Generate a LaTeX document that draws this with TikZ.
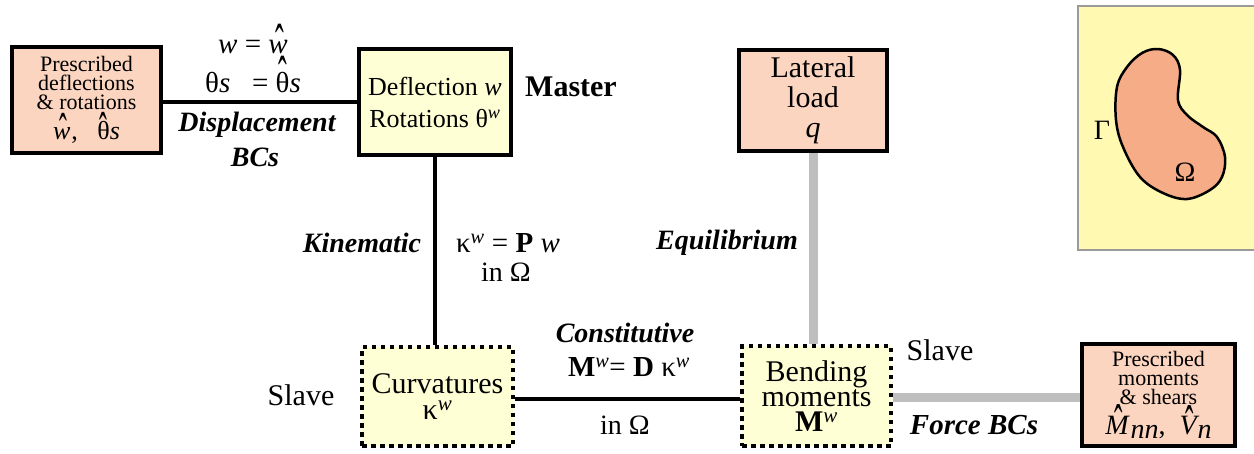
\documentclass[tikz,border=0pt]{standalone}
\usepackage{graphicx}
\usepackage{fontspec}
\setmainfont{Liberation Serif}
\definecolor{peach}{HTML}{FCD5C0}
\definecolor{paleyel}{HTML}{FFFFD6}
\definecolor{panelyel}{HTML}{FFF9B2}
\definecolor{kidney}{HTML}{F6AC86}
\definecolor{gline}{HTML}{BEBEBE}
\definecolor{pgray}{HTML}{9A9A9A}
\newsavebox\hatbox
\NewDocumentCommand\hatit{O{0em}O{0em}m}{\sbox\hatbox{#3}\rlap{\hbox to\wd\hatbox{\hss\kern#2\raisebox{\dimexpr\ht\hatbox-0.84em+#1\relax}[0pt][0pt]{\upshape\scalebox{0.9}[2]{ˆ}}\hss}}\usebox\hatbox}
\newcommand\sw{\textsuperscript{\itshape w}}
\tikzset{
  solidbox/.style={draw=black, line width=4pt, shape=rectangle, inner sep=0pt, align=center},
  dotbox/.style={draw=black, line width=4.5pt, dash pattern=on 4.5pt off 4.5pt, shape=rectangle, inner sep=0pt, align=center, fill=paleyel},
  conn/.style={line width=4pt, black},
  gconn/.style={line width=9pt, gline},
  lbl/.style={font=\fontsize{28}{30}\selectfont\bfseries\itshape, inner sep=0pt},
  txt/.style={font=\fontsize{29}{32}\selectfont, inner sep=0pt, align=center},
}
\begin{document}
\begin{tikzpicture}[x=1pt,y=-1pt]
\useasboundingbox (0,0) rectangle (1254,453);
% right panel
\node[draw=pgray, line width=2pt, fill=panelyel, minimum width=180pt, minimum height=244pt, inner sep=0pt] (panel) at (1168,128) {};
\draw[fill=kidney, line width=2.5pt] plot[smooth cycle, tension=0.6] coordinates {
 (1158,49) (1173,55) (1180,70) (1178,100) (1187,115) (1203,127) (1217,137) (1225,157) (1222,177) (1210,190) (1187,199) (1163,193) (1140,177) (1123,147) (1116,120) (1117,87) (1127,67) (1142,53)};
\node[txt, font=\fontsize{28}{30}\selectfont] (gam) at (1102,130) {Γ};
\node[txt, font=\fontsize{28}{30}\selectfont] (omg) at (1185,172) {Ω};
% boxes
\node[solidbox, fill=peach, minimum width=149pt, minimum height=106pt, font=\fontsize{22}{19}\selectfont] (presD) at (86.5,99.5) {Prescribed\\deflections\\\& rotations\\[11pt]\fontsize{26}{20}\selectfont\hatit[0em][0.12em]{\itshape w}\kern1pt,\ \ \ \hatit[-0.23em]{θ}\textit{s}};
\node[solidbox, fill=paleyel, minimum width=152pt, minimum height=106pt, font=\fontsize{26}{32}\selectfont] (defl) at (435,102) {Deflection \textit{w}\\Rotations θ\sw};
\node[solidbox, fill=peach, minimum width=148pt, minimum height=101pt, font=\fontsize{30}{30}\selectfont] (lat) at (813,100.5) {Lateral\\load\\\textit{q}};
\node[dotbox, minimum width=151pt, minimum height=99pt, font=\fontsize{30}{26}\selectfont] (curv) at (437.5,396.5) {Curvatures\\κ\sw};
\node[dotbox, minimum width=149pt, minimum height=100pt, font=\fontsize{30}{25}\selectfont] (bend) at (816.5,396) {Bending\\moments\\\textbf{M}\sw};
\node[solidbox, fill=peach, minimum width=153pt, minimum height=102pt, font=\fontsize{22}{19}\selectfont] (presF) at (1158.5,395) {Prescribed\\moments\\\& shears\\[11pt]\fontsize{28}{20}\selectfont\hatit[-0.14em][0.15em]{\itshape M}\kern2pt\raisebox{-4pt}{\textit{nn}},\ \ \hatit[-0.18em][0.1em]{\itshape V}\kern1pt\raisebox{-4pt}{\textit{n}}};
% connectors
\draw[conn] (presD.east |- 0,102) -- (defl.west |- 0,102);
\draw[conn] (defl.south) -- (defl.south |- curv.north);
\draw[conn] (curv.east |- 0,399) -- (bend.west |- 0,399);
\draw[gconn] (lat.south) -- (lat.south |- bend.north);
\draw[gconn] (bend.east |- 0,397) -- (presF.west |- 0,397);
% labels
\node[txt, anchor=base] (e1) at (253,53) {\textit{w} = \hatit[0em][0.1em]{\itshape w}};
\node[txt, anchor=base] (e2) at (253,92) {θ\textit{s} \ \ = \hatit{θ}\textit{s}};
\node[lbl] (l1) at (257,125) {Displacement};
\node[lbl] (l2) at (255,157) {BCs};
\node[font=\fontsize{30}{32}\selectfont\bfseries, inner sep=0pt] (mast) at (571,87) {Master};
\node[lbl] (kin) at (362,243) {Kinematic};
\node[txt] (e3) at (508,243) {κ\sw\ = \textbf{P} \textit{w}};
\node[txt, font=\fontsize{28}{30}\selectfont] (e4) at (506,272) {in Ω};
\node[lbl] (equ) at (727,243) {Equilibrium};
\node[txt, font=\fontsize{30}{32}\selectfont] (s1) at (301,395) {Slave};
\node[txt, font=\fontsize{30}{32}\selectfont] (s2) at (940,350) {Slave};
\node[lbl] (con) at (625,333) {Constitutive};
\node[txt] (e5) at (629,367) {\textbf{M}\sw= \textbf{D} κ\sw};
\node[txt, font=\fontsize{28}{30}\selectfont] (e6) at (625,425) {in Ω};
\node[lbl, font=\fontsize{29}{30}\selectfont\bfseries\itshape] (fbc) at (974,425) {Force BCs};
\end{tikzpicture}
\end{document}
